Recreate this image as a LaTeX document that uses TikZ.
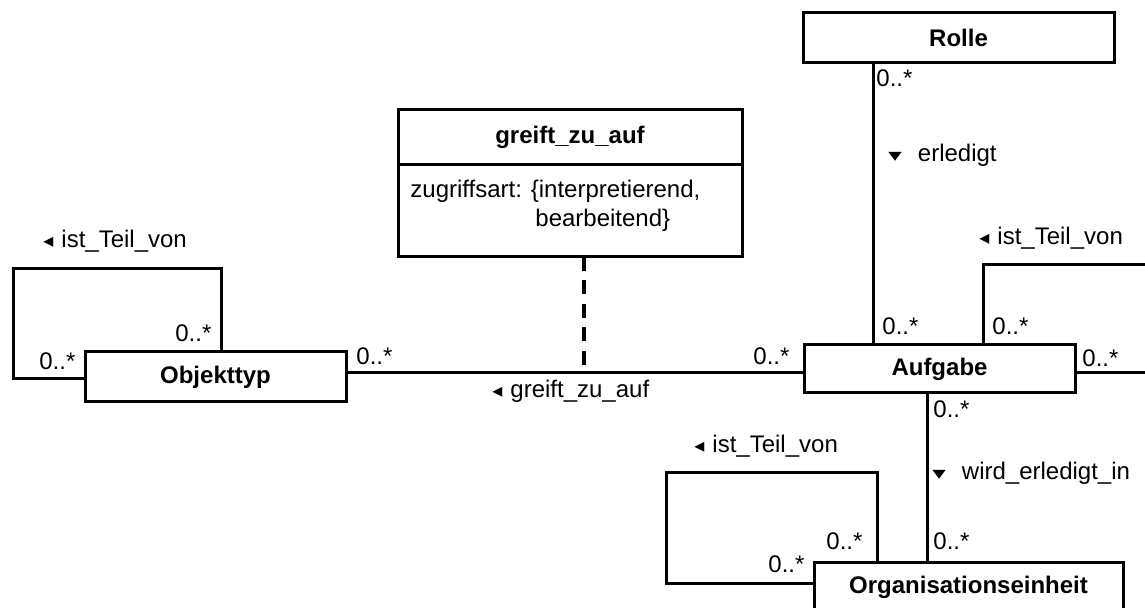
\documentclass[tikz,border=0pt]{standalone}
\usepackage{fontspec}
\setmainfont{Liberation Sans}
\newfontfamily\symfont{DejaVu Sans}
% reading-direction markers for association names
\newcommand\tril{{\symfont\fontsize{10}{10}\selectfont ◂}}
\newcommand\trid{\scalebox{1.35}[0.9]{\symfont\fontsize{10}{10}\selectfont ▾}}
\begin{document}
\begin{tikzpicture}[x=0.5pt,y=-0.5pt,
  every node/.style={font=\fontsize{12}{13.8}\selectfont, inner sep=0pt},
  cls/.style={draw, line width=1.5pt, outer sep=0pt, fill=white, font=\fontsize{12}{13.8}\selectfont\bfseries},
  assoc/.style={line width=1.5pt},
  assocclass/.style={line width=2.2pt, dash pattern=on 7pt off 4.75pt},
  lbl/.style={anchor=base west},
]
\clip (0,0) rectangle (1145,608);

% classes
\node[cls, minimum width=130.5pt, minimum height=25pt] (obj) at (215.5,377) {Objekttyp};
\node[cls, minimum width=135.5pt, minimum height=24pt] (auf) at (939.5,369) {Aufgabe};
\node[cls, minimum width=155.5pt, minimum height=25pt] (rolle) at (958.5,38) {Rolle};
\node[cls, minimum width=154.5pt, minimum height=25pt] (org) at (968.5,587) {Organisationseinheit};

% association class
\node[cls, minimum width=172pt, minimum height=27.5pt] (ghead) at (570,137.5) {greift\_zu\_auf};
\node[cls, minimum width=172pt, minimum height=46pt, anchor=north] (gbody) at (ghead.south) {};
\node[lbl] (gattr1) at (410,198) {zugriffsart: \{interpretierend,};
\node[lbl] (gattr2) at (535,226.5) {bearbeitend\}};

% greift_zu_auf association
\coordinate (gmid) at (584,373);
\draw[assoc] (obj.east |- gmid) -- (auf.west |- gmid);
\draw[assocclass] (gmid |- gbody.south) -- (gmid);
\node[lbl] (m1) at (356,365) {0..*};
\node[lbl] (m2) at (753,365) {0..*};
\node[lbl] (n1) at (492,398) {\tril\hspace{4pt}greift\_zu\_auf};

% Objekttyp ist_Teil_von
\coordinate (ol1) at (221,269);
\coordinate (ol2) at (13,269);
\coordinate (ol3) at (13,379);
\draw[assoc] (obj.north -| ol1) -- (ol1) -- (ol2) -- (ol3) -- (obj.west |- ol3);
\node[lbl] (m3) at (39,370) {0..*};
\node[lbl] (m4) at (175,342) {0..*};
\node[lbl] (n2) at (43,248) {\tril\hspace{4pt}ist\_Teil\_von};

% erledigt
\coordinate (ra) at (873,0);
\draw[assoc] (ra |- rolle.south) -- (ra |- auf.north);
\node[lbl] (m5) at (876,87) {0..*};
\node[lbl] (m6) at (882,335) {0..*};
\node[lbl] (n3) at (888,162) {\trid\hspace{8pt}erledigt};

% Aufgabe ist_Teil_von
\coordinate (al1) at (983,265);
\coordinate (al2) at (1160,265);
\coordinate (al3) at (1160,373);
\draw[assoc] (auf.north -| al1) -- (al1) -- (al2) -- (al3) -- (auf.east |- al3);
\node[lbl] (m7) at (992,335) {0..*};
\node[lbl] (m8) at (1082,367) {0..*};
\node[lbl] (n4) at (979,245) {\tril\hspace{4pt}ist\_Teil\_von};

% wird_erledigt_in
\coordinate (ao) at (927,0);
\draw[assoc] (ao |- auf.south) -- (ao |- org.north);
\node[lbl] (m9) at (933,418) {0..*};
\node[lbl] (m10) at (933,550) {0..*};
\node[lbl] (n5) at (932,480) {\trid\hspace{8pt}wird\_erledigt\_in};

% Organisationseinheit ist_Teil_von
\coordinate (gl1) at (877,473);
\coordinate (gl2) at (666,473);
\coordinate (gl3) at (666,583);
\draw[assoc] (org.north -| gl1) -- (gl1) -- (gl2) -- (gl3) -- (org.west |- gl3);
\node[lbl] (m11) at (826,550) {0..*};
\node[lbl] (m12) at (768,572) {0..*};
\node[lbl] (n6) at (694,453) {\tril\hspace{4pt}ist\_Teil\_von};
\end{tikzpicture}
\end{document}
